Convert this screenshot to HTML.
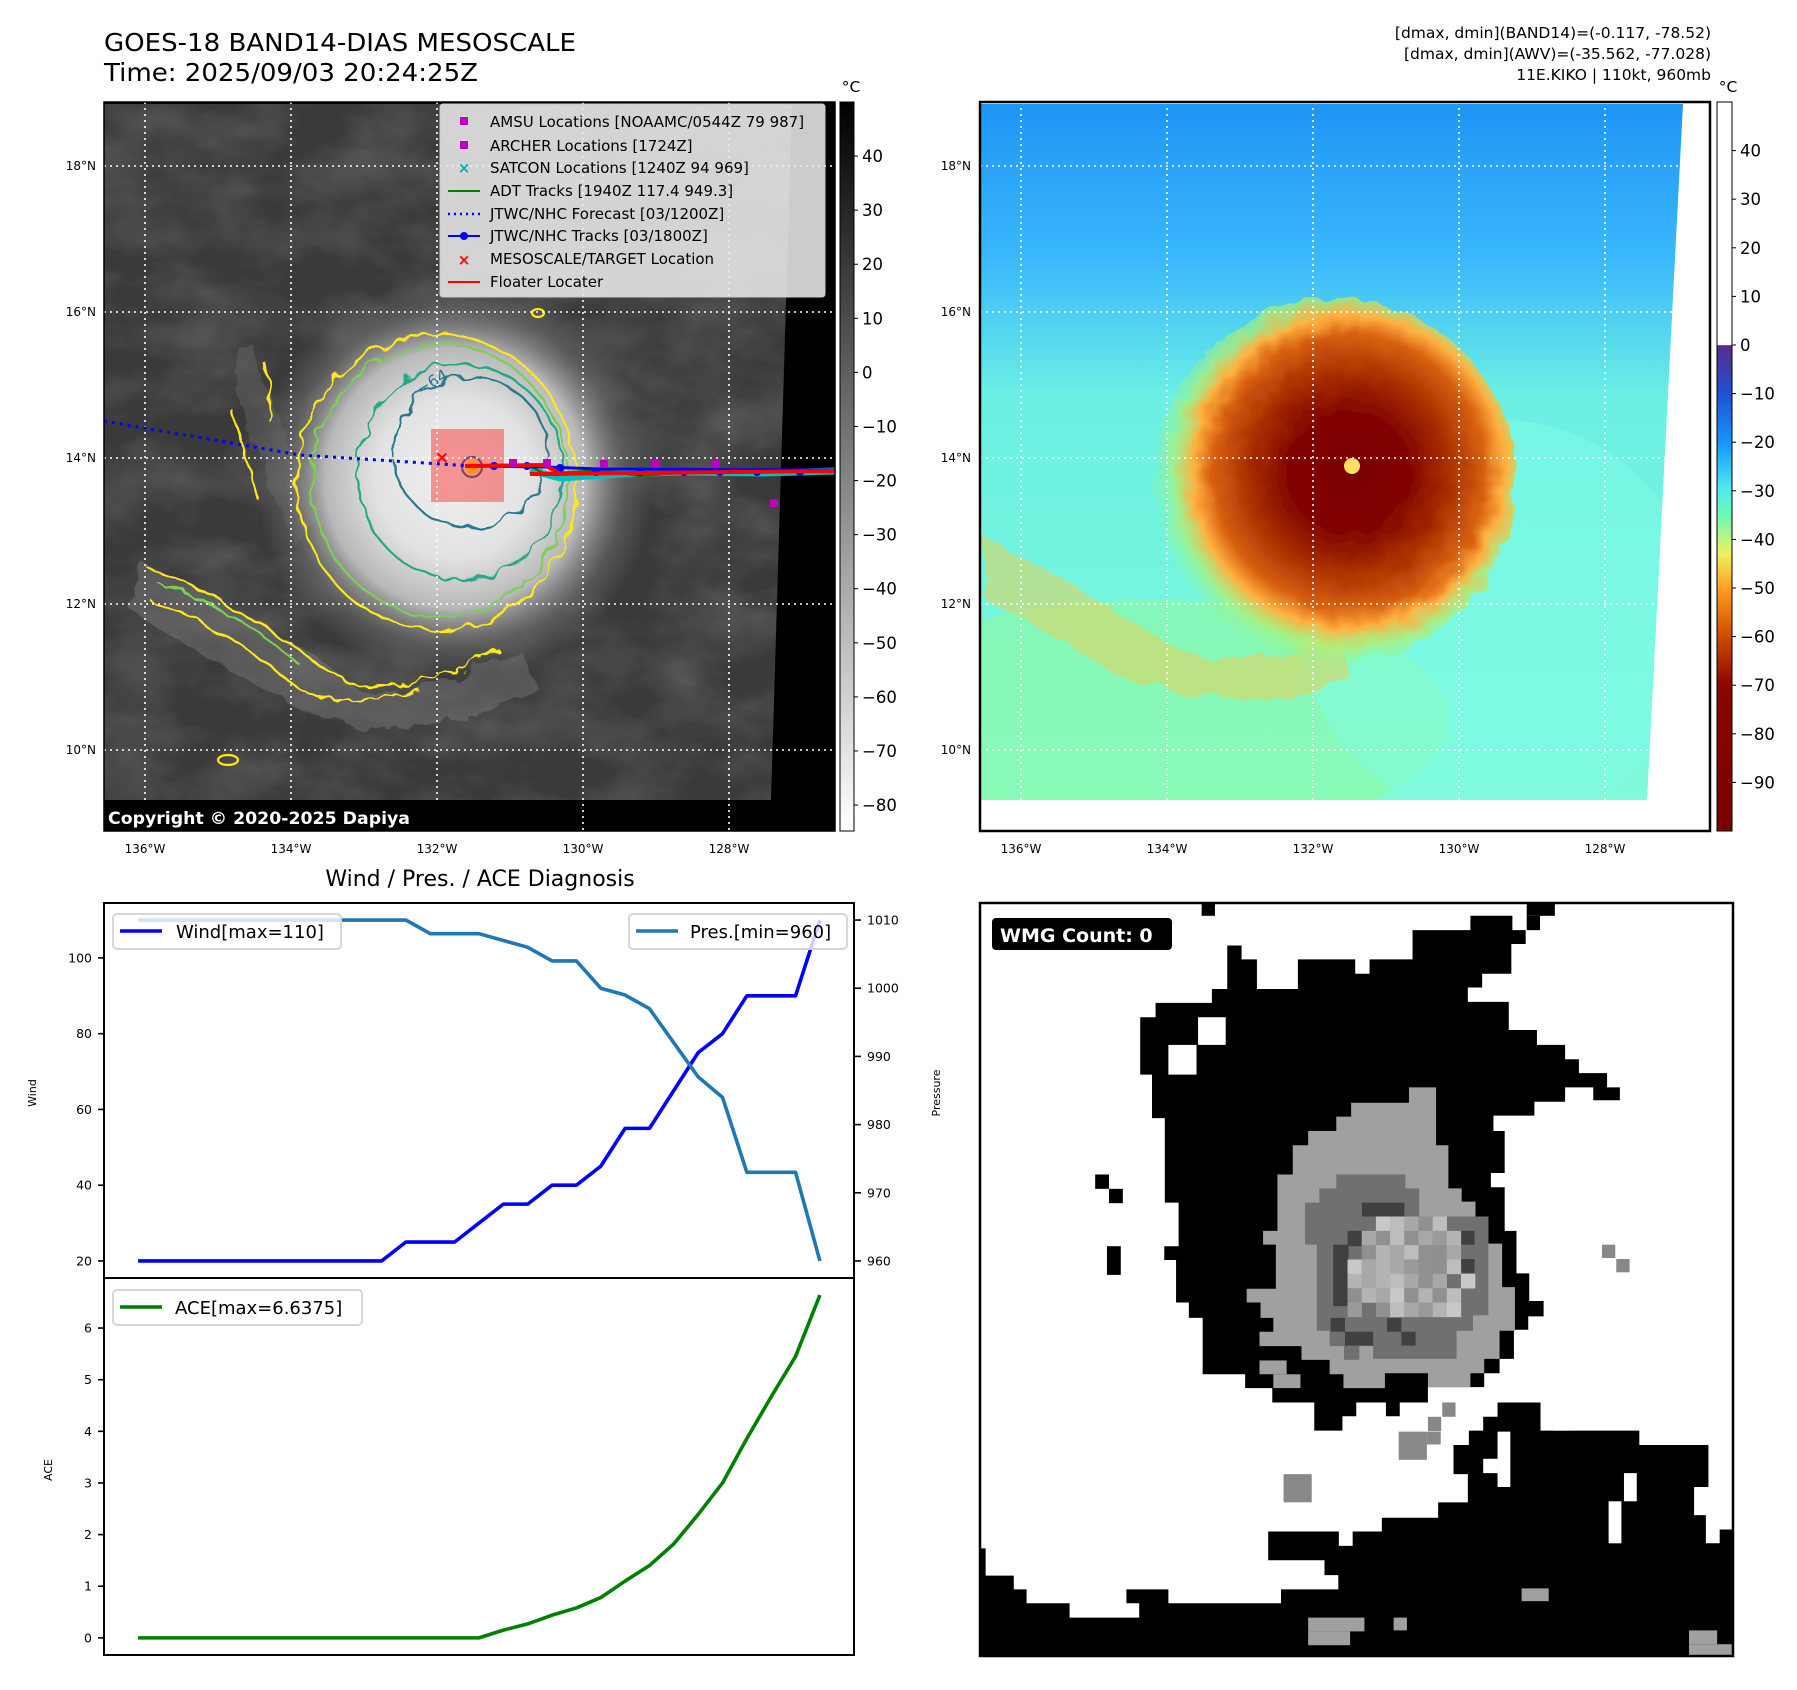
<!DOCTYPE html>
<html><head><meta charset="utf-8"><style>
html,body{margin:0;padding:0;background:#fff;}
svg{display:block;font-family:"DejaVu Sans","Liberation Sans",sans-serif;}
</style></head><body>
<svg id="root" width="1797" height="1690" viewBox="0 0 1797 1690" xmlns="http://www.w3.org/2000/svg">
<defs>
  <filter id="cloud" x="0" y="0" width="100%" height="100%">
    <feTurbulence type="fractalNoise" baseFrequency="0.012 0.02" numOctaves="4" seed="3"/>
    <feColorMatrix type="matrix" values="0 0 0 0 1  0 0 0 0 1  0 0 0 0 1  0.9 0 0 0 -0.3"/>
  </filter>
  <filter id="rough" x="-20%" y="-20%" width="140%" height="140%">
    <feTurbulence type="fractalNoise" baseFrequency="0.05" numOctaves="2" seed="7" result="n"/>
    <feDisplacementMap in="SourceGraphic" in2="n" scale="14"/>
  </filter>
  <filter id="rough2" x="-20%" y="-20%" width="140%" height="140%">
    <feTurbulence type="fractalNoise" baseFrequency="0.04" numOctaves="3" seed="11" result="n"/>
    <feDisplacementMap in="SourceGraphic" in2="n" scale="22"/>
  </filter>
  <radialGradient id="stormG" cx="455" cy="478" r="200" gradientUnits="userSpaceOnUse">
    <stop offset="0" stop-color="#f0f0f0"/>
    <stop offset="0.4" stop-color="#e2e2e2"/>
    <stop offset="0.65" stop-color="#b8b8b8"/>
    <stop offset="0.85" stop-color="#6a6a6a" stop-opacity="0.6"/>
    <stop offset="1" stop-color="#6a6a6a" stop-opacity="0"/>
  </radialGradient>
  <linearGradient id="awvBg" x1="0" y1="0" x2="0" y2="1">
    <stop offset="0" stop-color="#1f95f5"/>
    <stop offset="0.22" stop-color="#3ab8fb"/>
    <stop offset="0.42" stop-color="#6cf0e4"/>
    <stop offset="1" stop-color="#80fbd8"/>
  </linearGradient>
  <radialGradient id="awvStorm" cx="1349" cy="472" r="200" gradientUnits="userSpaceOnUse">
    <stop offset="0" stop-color="#7a0000"/>
    <stop offset="0.3" stop-color="#820400"/>
    <stop offset="0.5" stop-color="#a83000"/>
    <stop offset="0.68" stop-color="#d86010"/>
    <stop offset="0.78" stop-color="#ffb040"/>
    <stop offset="0.88" stop-color="#b0f070" stop-opacity="0.7"/>
    <stop offset="1" stop-color="#80f8a0" stop-opacity="0"/>
  </radialGradient>
  <linearGradient id="cbGray" x1="0" y1="0" x2="0" y2="1">
    <stop offset="0" stop-color="#000"/><stop offset="1" stop-color="#fff"/>
  </linearGradient>
  <linearGradient id="cbAwv" x1="0" y1="0" x2="0" y2="1">
    <stop offset="0" stop-color="#fff"/>
    <stop offset="0.333" stop-color="#fff"/>
    <stop offset="0.334" stop-color="#5a2a8a"/>
    <stop offset="0.40" stop-color="#2050d0"/>
    <stop offset="0.47" stop-color="#1898ff"/>
    <stop offset="0.53" stop-color="#50e8f0"/>
    <stop offset="0.57" stop-color="#70fbb0"/>
    <stop offset="0.62" stop-color="#f0f060"/>
    <stop offset="0.67" stop-color="#ff9a20"/>
    <stop offset="0.73" stop-color="#d05000"/>
    <stop offset="0.80" stop-color="#8a0600"/>
    <stop offset="1" stop-color="#780000"/>
  </linearGradient>
  <clipPath id="clip1"><rect x="104" y="102" width="731" height="729"/></clipPath>
  <clipPath id="clip2"><rect x="980" y="102" width="730" height="729"/></clipPath>
  <clipPath id="img1"><polygon points="104,104 792,104 771,800 104,800"/></clipPath>
  <clipPath id="img2"><polygon points="980,104 1683,104 1647,800 980,800"/></clipPath>
</defs>

<text x="104" y="51" font-size="25" textLength="472" lengthAdjust="spacingAndGlyphs">GOES-18 BAND14-DIAS MESOSCALE</text>
<text x="104" y="81" font-size="25" textLength="374" lengthAdjust="spacingAndGlyphs">Time: 2025/09/03 20:24:25Z</text>
<g font-size="15.5" text-anchor="end">
  <text x="1711" y="38">[dmax, dmin](BAND14)=(-0.117, -78.52)</text>
  <text x="1711" y="59">[dmax, dmin](AWV)=(-35.562, -77.028)</text>
  <text x="1711" y="80">11E.KIKO | 110kt, 960mb</text>
</g>

<!-- MAP 1 -->
<g clip-path="url(#clip1)">
  <rect x="104" y="102" width="731" height="729" fill="#000"/>
  <g clip-path="url(#img1)">
    <rect x="104" y="104" width="700" height="700" fill="#3a3a3a"/>
    <rect x="104" y="104" width="700" height="700" filter="url(#cloud)" opacity="0.3"/>
    <path d="M140,560 C220,600 300,640 360,690 C420,700 470,670 520,650 L540,690 C470,720 400,740 330,720 C260,690 190,650 130,610 Z" fill="#8a8a8a" opacity="0.35" filter="url(#rough2)"/>
    <path d="M250,340 C270,400 300,470 320,520 L290,540 C270,480 240,420 230,360 Z" fill="#777" opacity="0.3" filter="url(#rough2)"/>
    <ellipse cx="455" cy="478" rx="200" ry="200" fill="url(#stormG)"/>
  </g>
  <g fill="none" stroke-width="2.2">
    <ellipse cx="437" cy="482" rx="140" ry="148" stroke="#ffe81a" filter="url(#rough)"/>
    <ellipse cx="440" cy="480" rx="128" ry="136" stroke="#7ad151" filter="url(#rough)"/>
    <ellipse cx="460" cy="472" rx="103" ry="108" stroke="#22a884" filter="url(#rough)"/>
    <ellipse cx="470" cy="452" rx="77" ry="75" stroke="#2a788e" filter="url(#rough)"/>
    <path d="M145,565 C200,590 250,615 300,650 C330,680 370,690 420,680 C460,672 480,660 500,650 M150,600 C210,620 250,650 300,690 C330,705 380,700 420,690" stroke="#ffe81a" filter="url(#rough2)"/>
    <path d="M160,585 C210,600 260,630 300,665" stroke="#7ad151" filter="url(#rough2)"/>
    <path d="M262,360 C270,380 270,400 268,420 M232,410 C240,440 250,470 258,500" stroke="#ffe81a" filter="url(#rough)"/>
    <ellipse cx="228" cy="760" rx="10" ry="5" stroke="#ffe81a"/>
    <ellipse cx="538" cy="313" rx="6" ry="4" stroke="#ffe81a"/>
    <ellipse cx="472" cy="467" rx="10" ry="10" stroke="#2a788e"/>
    <ellipse cx="472" cy="467" rx="5" ry="6" stroke="#ffe81a" fill="#fde725"/>
  </g>
  <text x="420" y="395" font-size="16" fill="#2a788e" transform="rotate(-30 420 395)">−64</text>
  <rect x="431" y="429" width="73" height="73" fill="#ff0000" fill-opacity="0.38"/>
  <g stroke="#fff" stroke-width="1.6" stroke-dasharray="2,4">
    <line x1="145" y1="102" x2="145" y2="831"/><line x1="291" y1="102" x2="291" y2="831"/>
    <line x1="437" y1="102" x2="437" y2="831"/><line x1="583" y1="102" x2="583" y2="831"/>
    <line x1="729" y1="102" x2="729" y2="831"/>
    <line x1="104" y1="166" x2="835" y2="166"/><line x1="104" y1="312" x2="835" y2="312"/>
    <line x1="104" y1="458" x2="835" y2="458"/><line x1="104" y1="604" x2="835" y2="604"/>
    <line x1="104" y1="750" x2="835" y2="750"/>
  </g>
  <g>
    <polyline points="104,421 300,455 472,466" fill="none" stroke="#0000ff" stroke-width="3" stroke-dasharray="3,5"/>
    <polyline points="530,470 560,478 620,474 680,472 760,473 835,471" fill="none" stroke="#00c0c0" stroke-width="7"/>
    <polyline points="472,466 530,466 545,474 600,470 640,476 700,471 835,472" fill="none" stroke="#008000" stroke-width="2.5"/>
    <polyline points="472,466 545,467 600,469 835,470" fill="none" stroke="#0000ff" stroke-width="3"/>
    <g fill="#0000ff"><circle cx="494" cy="466" r="4"/><circle cx="527" cy="466" r="4"/><circle cx="560" cy="468" r="4"/><circle cx="596" cy="472" r="4"/><circle cx="640" cy="472" r="4"/><circle cx="684" cy="472" r="4"/><circle cx="720" cy="472" r="4"/><circle cx="757" cy="472" r="4"/><circle cx="800" cy="472" r="4"/></g>
    <polyline points="465,466 545,465 560,474 530,474 835,471" fill="none" stroke="#ff0000" stroke-width="4"/>
    <g fill="#c000c0"><rect x="509" y="459" width="8" height="8"/><rect x="543" y="459" width="8" height="8"/><rect x="600" y="460" width="8" height="8"/><rect x="652" y="460" width="8" height="8"/><rect x="712" y="460" width="8" height="8"/><rect x="770" y="499" width="8" height="8"/></g>
    <text x="442" y="463" font-size="17" font-weight="bold" fill="#ff0000" text-anchor="middle">×</text>
  </g>
  <rect x="104" y="800" width="400" height="31" fill="#000"/>
  <text x="108" y="824" font-size="17" font-weight="bold" fill="#fff" textLength="302" lengthAdjust="spacingAndGlyphs">Copyright © 2020-2025 Dapiya</text>
  <g>
    <rect x="440" y="104" width="385" height="193" rx="3" fill="#e8e8e8" fill-opacity="0.88" stroke="#ccc"/>
    <g font-size="15">
      <rect x="460" y="117" width="8" height="8" fill="#c000c0"/><text x="490" y="127">AMSU Locations [NOAAMC/0544Z 79 987]</text>
      <rect x="460" y="141" width="8" height="8" fill="#c000c0"/><text x="490" y="151">ARCHER Locations [1724Z]</text>
      <text x="464" y="173" fill="#00b0b0" font-weight="bold" text-anchor="middle">×</text><text x="490" y="173">SATCON Locations [1240Z 94 969]</text>
      <line x1="448" y1="191" x2="480" y2="191" stroke="#008000" stroke-width="2"/><text x="490" y="196">ADT Tracks [1940Z 117.4 949.3]</text>
      <line x1="448" y1="214" x2="480" y2="214" stroke="#0000ff" stroke-width="2.5" stroke-dasharray="2,4"/><text x="490" y="219">JTWC/NHC Forecast [03/1200Z]</text>
      <line x1="448" y1="236" x2="480" y2="236" stroke="#0000ff" stroke-width="2"/><circle cx="464" cy="236" r="4" fill="#0000ff"/><text x="490" y="241">JTWC/NHC Tracks [03/1800Z]</text>
      <text x="464" y="265" fill="#ff0000" font-weight="bold" text-anchor="middle">×</text><text x="490" y="264">MESOSCALE/TARGET Location</text>
      <line x1="448" y1="282" x2="480" y2="282" stroke="#ff0000" stroke-width="2"/><text x="490" y="287">Floater Locater</text>
    </g>
  </g>
</g>
<rect x="104" y="102" width="731" height="729" fill="none" stroke="#000" stroke-width="1.5"/>

<g>
  <rect x="840" y="102" width="14" height="729" fill="url(#cbGray)" stroke="#000" stroke-width="1"/>
  <text x="851" y="92" font-size="15.5" text-anchor="middle">°C</text>
  <g font-size="16.5" id="cb1ticks"></g>
</g>

<!-- MAP 2 -->
<g clip-path="url(#clip2)">
  <rect x="980" y="102" width="730" height="729" fill="#fff"/>
  <g clip-path="url(#img2)">
    <rect x="980" y="104" width="710" height="700" fill="url(#awvBg)"/>
    <ellipse cx="1150" cy="720" rx="300" ry="120" fill="#90f8a0" opacity="0.6"/>
    <ellipse cx="1500" cy="620" rx="200" ry="200" fill="#80fbe8" opacity="0.5"/>
    <path d="M985,540 C1060,570 1120,620 1180,650 C1230,670 1290,660 1340,630 L1350,680 C1280,710 1200,700 1130,680 C1070,650 1020,610 985,600 Z" fill="#f0d050" opacity="0.5" filter="url(#rough2)"/>
    <ellipse cx="1335" cy="480" rx="180" ry="182" fill="url(#awvStorm)" filter="url(#rough)"/>
    <ellipse cx="1352" cy="466" rx="8" ry="8" fill="#ffe060"/>
  </g>
  <g stroke="#fff" stroke-width="1.6" stroke-dasharray="2,4">
    <line x1="1021" y1="102" x2="1021" y2="831"/><line x1="1167" y1="102" x2="1167" y2="831"/>
    <line x1="1313" y1="102" x2="1313" y2="831"/><line x1="1459" y1="102" x2="1459" y2="831"/>
    <line x1="1605" y1="102" x2="1605" y2="831"/>
    <line x1="980" y1="166" x2="1710" y2="166"/><line x1="980" y1="312" x2="1710" y2="312"/>
    <line x1="980" y1="458" x2="1710" y2="458"/><line x1="980" y1="604" x2="1710" y2="604"/>
    <line x1="980" y1="750" x2="1710" y2="750"/>
  </g>
</g>
<rect x="980" y="102" width="730" height="729" fill="none" stroke="#000" stroke-width="2.5"/>

<g>
  <rect x="1717" y="102" width="15" height="729" fill="url(#cbAwv)" stroke="#000" stroke-width="1"/>
  <text x="1728" y="92" font-size="15.5" text-anchor="middle">°C</text>
  <g font-size="16.5" id="cb2ticks"></g>
</g>

<g font-size="12" id="mapticks"></g>

<text x="480" y="886" font-size="22" text-anchor="middle">Wind / Pres. / ACE Diagnosis</text>
<g id="windplot"></g>
<g id="aceplot"></g>

<!-- WMG panel -->
<g>
  <svg x="980" y="903" width="753" height="753" viewBox="37 45 1471 1470" preserveAspectRatio="none">
    <rect x="37" y="45" width="1471" height="1470" fill="#fff"/>
    <polygon fill="#000" points="380,240 490,240 490,213 520,213 520,128 548,128 548,155 578,155 578,213 658,213 658,155 770,155 770,183 798,183 798,155 882,155 882,98 995,98 995,70 1077,70 1077,98 1103,98 1103,125 1075,125 1075,183 1018,183 1018,210 990,210 990,238 1070,238 1070,293 1125,293 1125,322 1180,322 1180,350 1207,350 1207,377 1262,377 1262,405 1287,405 1287,430 1235,430 1235,405 1180,405 1180,433 1120,433 1120,460 1040,460 1040,490 1062,490 1062,572 1035,572 1035,600 1062,600 1062,685 1085,685 1085,768 1110,768 1110,822 1138,822 1138,852 1108,852 1108,878 1080,878 1080,935 1052,935 1052,963 1022,963 1022,990 912,990 912,1020 857,1020 857,1047 830,1047 830,1020 772,1020 772,1047 745,1047 745,1075 690,1075 690,1020 608,1020 608,992 555,992 555,965 472,965 472,855 445,855 445,825 420,825 420,742 397,742 397,715 425,715 425,630 398,630 398,465 373,465 373,380 350,380 350,268 380,268"/>
    <rect x="463" y="268" width="54" height="54" fill="#fff"/><rect x="405" y="322" width="55" height="58" fill="#fff"/>
    <g fill="#000"><rect x="262" y="575" width="27" height="28"/><rect x="289" y="603" width="27" height="28"/><rect x="285" y="715" width="27" height="56"/><rect x="470" y="45" width="26" height="25"/><rect x="1105" y="45" width="55" height="25"/><rect x="1105" y="70" width="26" height="28"/></g>
    <polygon fill="#a0a0a0" points="875,405 928,405 928,518 952,518 952,602 978,602 978,628 1005,628 1005,657 1030,657 1030,710 1057,710 1057,795 1082,795 1082,880 1052,880 1052,935 1022,935 1022,963 995,963 995,990 912,990 912,963 828,963 828,992 747,992 747,965 720,965 720,937 665,937 665,910 583,910 583,882 610,882 610,855 585,855 585,825 558,825 558,798 615,798 615,712 590,712 590,685 618,685 618,575 648,575 648,518 678,518 678,490 733,490 733,462 762,462 762,435 875,435"/>
    <rect x="583" y="938" width="53" height="27" fill="#a0a0a0"/><rect x="610" y="965" width="53" height="27" fill="#a0a0a0"/>
    <polygon fill="#707070" points="700,602 733,602 733,575 868,575 868,602 895,602 895,657 1030,657 1030,850 1000,850 1000,880 968,880 968,935 805,935 805,910 778,910 778,937 748,937 748,910 720,910 720,880 695,880 695,712 672,712 672,630 700,630"/>
    <g fill="#404040"><rect x="783" y="630" width="83" height="27"/><rect x="755" y="685" width="55" height="30"/><rect x="727" y="712" width="30" height="120"/><rect x="722" y="855" width="28" height="27"/><rect x="750" y="882" width="55" height="27"/><rect x="860" y="882" width="28" height="27"/><rect x="832" y="855" width="28" height="27"/><rect x="893" y="657" width="28" height="27"/><rect x="975" y="685" width="28" height="27"/><rect x="975" y="740" width="28" height="27"/></g>
    <g id="wmgcenter"></g>
    <polygon fill="#000" points="1048,1020 1132,1020 1132,1075 1325,1075 1325,1103 1460,1103 1460,1185 1432,1185 1432,1240 1455,1240 1455,1295 1482,1295 1482,1268 1508,1268 1508,1515 37,1515 37,1305 48,1305 48,1358 103,1358 103,1385 128,1385 128,1412 212,1412 212,1440 348,1440 348,1412 323,1412 323,1385 405,1385 405,1412 625,1412 625,1385 737,1385 737,1357 710,1357 710,1328 600,1328 600,1272 738,1272 738,1300 765,1300 765,1272 822,1272 822,1245 932,1245 932,1215 990,1215 990,1160 962,1160 962,1103 992,1103 992,1075 1020,1075 1020,1048 1048,1048"/>
    <g fill="#fff"><rect x="1048" y="1077" width="25" height="108"/><rect x="1020" y="1130" width="28" height="28"/><rect x="1295" y="1158" width="25" height="55"/><rect x="1265" y="1213" width="25" height="82"/><rect x="1158" y="1048" width="30" height="27"/></g>
    <g fill="#888"><rect x="630" y="1160" width="55" height="55"/><rect x="855" y="1077" width="55" height="55"/><rect x="910" y="1077" width="27" height="25"/><rect x="940" y="1020" width="26" height="28"/><rect x="912" y="1048" width="26" height="28"/><rect x="1252" y="712" width="26" height="26"/><rect x="1280" y="740" width="26" height="26"/></g>
    <g fill="#a0a0a0"><rect x="1095" y="1383" width="53" height="25"/><rect x="678" y="1440" width="110" height="27"/><rect x="678" y="1467" width="82" height="27"/><rect x="845" y="1440" width="26" height="25"/><rect x="1422" y="1465" width="55" height="27"/><rect x="1422" y="1492" width="85" height="22"/></g>
  </svg>
  <rect x="980" y="903" width="753" height="753" fill="none" stroke="#000" stroke-width="2.5"/>
  <rect x="992" y="918" width="180" height="32" rx="4" fill="#000"/>
  <text x="1000" y="942" font-size="19" font-weight="bold" fill="#fff">WMG Count: 0</text>
</g>
</svg>

<script>
const steps = [0,1,2,3,4,5,6,7,8,9,10,11,12,13,14,15,16,17,18,19,20,21,22,23,24,25,26,27,28];
const windValues = [20,20,20,20,20,20,20,20,20,20,20,25,25,25,30,35,35,40,40,45,55,55,65,75,80,90,90,90,110];
const presValues = [1010,1010,1010,1010,1010,1010,1010,1010,1010,1010,1010,1010,1008,1008,1008,1007,1006,1004,1004,1000,999,997,992,987,984,973,973,973,960];
const aceValues = [0,0,0,0,0,0,0,0,0,0,0,0,0,0,0,0.15,0.27,0.44,0.58,0.78,1.10,1.40,1.82,2.39,3.0,3.86,4.67,5.45,6.6375];
const windTicks = [20,40,60,80,100];
const presTicks = [960,970,980,990,1000,1010];
const aceTicks = [0,1,2,3,4,5,6];
const cb1Ticks = [40,30,20,10,0,-10,-20,-30,-40,-50,-60,-70,-80];
const cb2Ticks = [40,30,20,10,0,-10,-20,-30,-40,-50,-60,-70,-80,-90];
const lonTicks = [-136,-134,-132,-130,-128];
const latTicks = [18,16,14,12,10];

const NS='http://www.w3.org/2000/svg';
function mk(tag, attrs, parent, txt){const e=document.createElementNS(NS,tag);for(const k in attrs)e.setAttribute(k,attrs[k]);if(txt!==undefined)e.textContent=txt;parent.appendChild(e);return e;}
function fmt(v){return v<0?'\u2212'+Math.abs(v):String(v);}

const L=104,R=854,T1=903,B1=1278,T2=1278,B2=1655;
const xmin=Math.min(...steps),xmax=Math.max(...steps),xm=(xmax-xmin)*0.05;
const sx=v=>L+(v-(xmin-xm))/((xmax+xm)-(xmin-xm))*(R-L);
function lin(d0,d1,p0,p1){return v=>p0+(v-d0)/(d1-d0)*(p1-p0);}
function padRange(arr){const a=Math.min(...arr),b=Math.max(...arr),m=(b-a)*0.05;return [a-m,b+m];}
const wr=padRange(windValues),pr=padRange(presValues),ar=padRange(aceValues);
const syW=lin(wr[0],wr[1],B1,T1),syP=lin(pr[0],pr[1],B1,T1),syA=lin(ar[0],ar[1],B2,T2);

const wp=document.getElementById('windplot');
mk('rect',{x:L,y:T1,width:R-L,height:B1-T1,fill:'#fff'},wp);
let el=mk('polyline',{points:steps.map((s,i)=>sx(s)+','+syW(windValues[i])).join(' '),fill:'none',stroke:'#0000ff','stroke-width':3.6,'stroke-linejoin':'round'},wp);


el=mk('polyline',{points:steps.map((s,i)=>sx(s)+','+syP(presValues[i])).join(' '),fill:'none',stroke:'#1f77b4','stroke-width':3.6,'stroke-linejoin':'round'},wp);


windTicks.forEach(v=>{const y=syW(v);mk('line',{x1:L-6,y1:y,x2:L,y2:y,stroke:'#000','stroke-width':1.6},wp);
  const t=mk('text',{x:L-12,y:y+4.5,'font-size':12.5,'text-anchor':'end'},wp,String(v));
  
  });
presTicks.forEach(v=>{const y=syP(v);mk('line',{x1:R,y1:y,x2:R+7,y2:y,stroke:'#000','stroke-width':1.6},wp);
  const t=mk('text',{x:R+13,y:y+4.5,'font-size':12.5},wp,String(v));
  
  });
mk('text',{x:36,y:1093,'font-size':11,'text-anchor':'middle',transform:'rotate(-90 36 1093)'},wp,'Wind');
mk('text',{x:940,y:1093,'font-size':11,'text-anchor':'middle',transform:'rotate(-90 940 1093)'},wp,'Pressure');
mk('rect',{x:L,y:T1,width:R-L,height:B1-T1,fill:'none',stroke:'#000','stroke-width':2},wp);
let lg=mk('g',{},wp);


mk('rect',{x:113,y:914,width:228,height:35,rx:4,fill:'#fff','fill-opacity':0.8,stroke:'#d6d6d6','stroke-width':2},lg);
mk('line',{x1:120,y1:931,x2:162,y2:931,stroke:'#0000ff','stroke-width':3.6},lg);
mk('text',{x:176,y:938,'font-size':18},lg,'Wind[max=110]');
lg=mk('g',{},wp);


mk('rect',{x:629,y:914,width:218,height:35,rx:4,fill:'#fff','fill-opacity':0.8,stroke:'#d6d6d6','stroke-width':2},lg);
mk('line',{x1:636,y1:931,x2:678,y2:931,stroke:'#1f77b4','stroke-width':3.6},lg);
mk('text',{x:690,y:938,'font-size':18},lg,'Pres.[min=960]');

const ap=document.getElementById('aceplot');
el=mk('polyline',{points:steps.map((s,i)=>sx(s)+','+syA(aceValues[i])).join(' '),fill:'none',stroke:'#008000','stroke-width':3.6,'stroke-linejoin':'round'},ap);


aceTicks.forEach(v=>{const y=syA(v);mk('line',{x1:L-6,y1:y,x2:L,y2:y,stroke:'#000','stroke-width':1.6},ap);
  const t=mk('text',{x:L-12,y:y+4.5,'font-size':12.5,'text-anchor':'end'},ap,String(v));
  
  });
mk('text',{x:52,y:1470,'font-size':11,'text-anchor':'middle',transform:'rotate(-90 52 1470)'},ap,'ACE');
mk('rect',{x:L,y:T2,width:R-L,height:B2-T2,fill:'none',stroke:'#000','stroke-width':2},ap);
lg=mk('g',{},ap);


mk('rect',{x:113,y:1290,width:249,height:35,rx:4,fill:'#fff','fill-opacity':0.8,stroke:'#d6d6d6','stroke-width':2},lg);
mk('line',{x1:120,y1:1307,x2:162,y2:1307,stroke:'#008000','stroke-width':3.6},lg);
mk('text',{x:175,y:1314,'font-size':18},lg,'ACE[max=6.6375]');

const cb1=document.getElementById('cb1ticks'), cy1=lin(50,-84.8,102,831);
cb1Ticks.forEach(v=>{const y=cy1(v);mk('line',{x1:854,y1:y,x2:858,y2:y,stroke:'#000'},cb1);mk('text',{x:862,y:y+6},cb1,fmt(v));});
const cb2=document.getElementById('cb2ticks'), cy2=lin(50,-100,102,831);
cb2Ticks.forEach(v=>{const y=cy2(v);mk('line',{x1:1732,y1:y,x2:1736,y2:y,stroke:'#000'},cb2);mk('text',{x:1740,y:y+6},cb2,fmt(v));});

const mt=document.getElementById('mapticks');
const lonX=lin(-136,-128,145,729), latY=lin(18,10,166,750);
[0,876].forEach(off=>{
  lonTicks.forEach(v=>{mk('text',{x:lonX(v)+off,y:853,'text-anchor':'middle'},mt,Math.abs(v)+'°W');});
  latTicks.forEach(v=>{mk('text',{x:(off?971:96),y:latY(v)+4,'text-anchor':'end'},mt,v+'°N');});
});

const wc=document.getElementById('wmgcenter');
const shades=['#bdbdbd','#a8a8a8','#909090','#b4b4b4','#c8c8c8','#9a9a9a'];
const pat=[
 '..40120..',
 '.1202153.',
 '.2310221.',
 '41315220.',
 '3130121.4',
 '23142320.',
 '5.201534.',
 '.........'];
pat.forEach((row,r)=>{for(let c=0;c<row.length;c++){const ch=row[c];if(ch==='.')continue;
  mk('rect',{x:755+c*27.7,y:657+r*28,width:28,height:28.5,fill:shades[+ch]},wc);}});
</script>
</body></html>
